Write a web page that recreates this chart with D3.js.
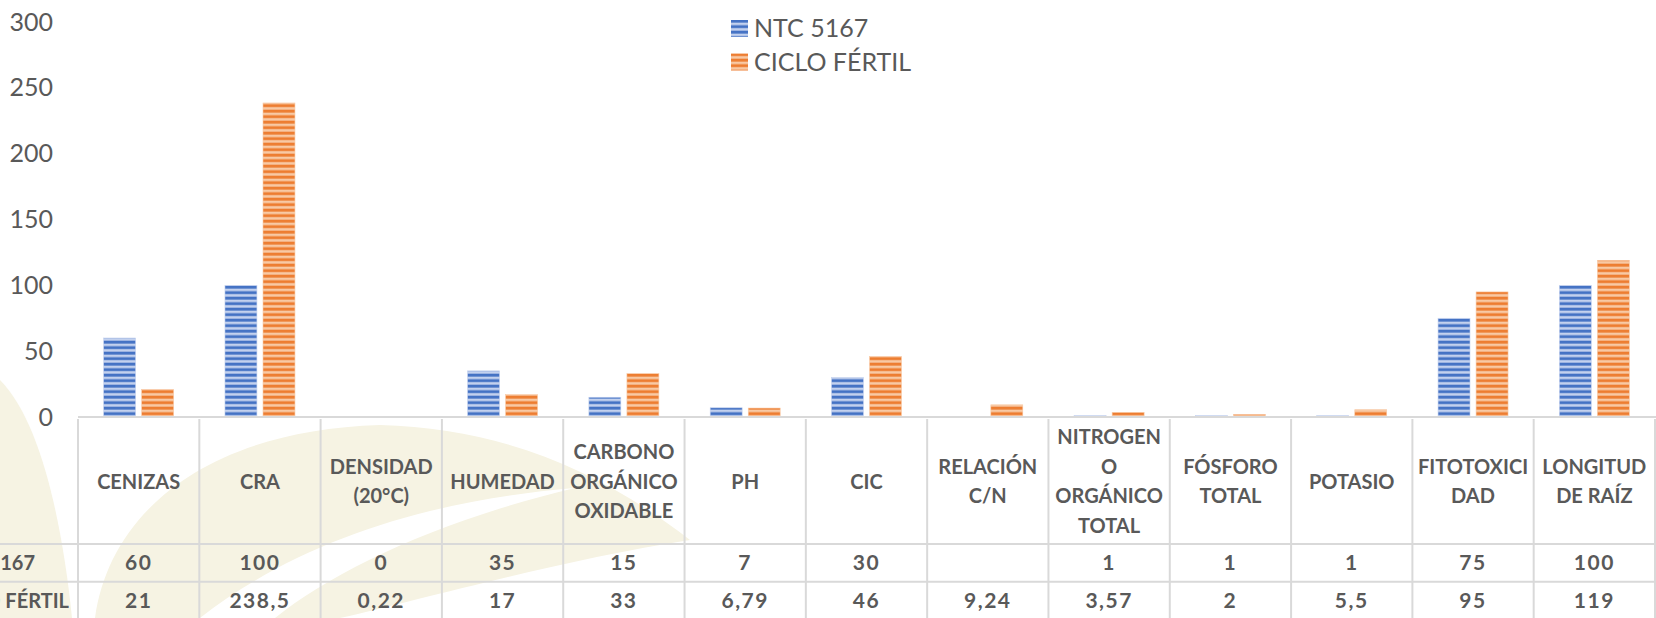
<!DOCTYPE html>
<html>
<head>
<meta charset="utf-8">
<script src="https://cdn.jsdelivr.net/npm/d3@7/dist/d3.min.js"></script>
<style>
    body { margin: 0; background: #fff; }
    svg { display: block; font-family: Lato, "Open Sans", sans-serif; }
</style>
</head>
<body>
<div id="chart"></div>
<script>
// valores (tabla de datos de Excel)
var categories = ["CENIZAS", "CRA", "DENSIDAD\n(20°C)", "HUMEDAD", "CARBONO\nORGÁNICO\nOXIDABLE", "PH", "CIC",
    "RELACIÓN\nC/N", "NITROGEN\nO\nORGÁNICO\nTOTAL", "FÓSFORO\nTOTAL", "POTASIO", "FITOTOXICI\nDAD", "LONGITUD\nDE RAÍZ"];
var seriesNames = ["NTC 5167", "CICLO FÉRTIL"];
var ntcValues = [60, 100, 0, 35, 15, 7, 30, null, 1, 1, 1, 75, 100];
var cicloValues = [21, 238.5, 0.22, 17, 33, 6.79, 46, 9.24, 3.57, 2, 5.5, 95, 119];
var yTicks = [0, 50, 100, 150, 200, 250, 300];

var width = 1656, height = 618;
var colors = ["#4472c4", "#ed7d31"],
    lightColors = ["#c3d1ee", "#f8c9a4"];
var textColor = "#595959", lineColor = "#d9d9d9";

var series = [ntcValues, cicloValues];

var svg = d3.select("#chart").append("svg")
    .attr("width", width)
    .attr("height", height);

// patrones de rayas horizontales
var defs = svg.append("defs");
colors.forEach(function (c, i) {
    var p = defs.append("pattern")
        .attr("id", "stripe" + i)
        .attr("patternUnits", "userSpaceOnUse")
        .attr("width", 10)
        .attr("height", 5.5);
    p.append("rect").attr("width", 10).attr("height", 5.5).attr("fill", c);
    p.append("rect").attr("y", 2.6).attr("width", 10).attr("height", 2.6).attr("fill", lightColors[i]);
});

// marca de agua (hojas)
var wm = svg.append("g");
wm.append("path")
    .attr("d", "M0,380 C40,420 62,520 72,618 L0,618 Z")
    .attr("fill", "#f6f3e3");
wm.append("path")
    .attr("d", "M95,618 C110,510 210,430 380,425 C500,428 600,470 690,540 C560,560 420,600 340,618 Z")
    .attr("fill", "#f6f3e3");
wm.append("path")
    .attr("d", "M200,618 C300,540 430,500 575,488 C440,520 335,570 275,618 Z")
    .attr("fill", "#ffffff");

var x0 = d3.scaleBand()
    .domain(d3.range(categories.length))
    .range([78, 1655])
    .paddingInner(0)
    .paddingOuter(0);

var groupW = x0.bandwidth() * 0.577;
var x1 = d3.scaleBand()
    .domain(d3.range(seriesNames.length))
    .range([0, groupW])
    .paddingInner(0.16);

var y = d3.scaleLinear()
    .domain([0, 300])
    .range([417, 22]);

// eje Y
var yAxis = svg.append("g")
    .attr("transform", "translate(60,0)")
    .call(d3.axisLeft(y).tickValues(yTicks).tickSize(0).tickPadding(7));
yAxis.select(".domain").remove();
yAxis.selectAll("text")
    .attr("fill", textColor)
    .style("font-family", "Lato, sans-serif")
    .style("font-size", "25px");

// barras
series.forEach(function (vals, s) {
    svg.append("g")
        .selectAll("rect")
        .data(vals.map(function (v, i) { return { i: i, v: v }; }).filter(function (d) { return d.v != null && d.v > 0; }))
        .enter().append("rect")
        .attr("x", function (d) { return x0(d.i) + (x0.bandwidth() - groupW) / 2 + x1(s); })
        .attr("y", function (d) { return y(d.v); })
        .attr("width", x1.bandwidth())
        .attr("height", function (d) { return y(0) - y(d.v); })
        .attr("fill", "url(#stripe" + s + ")")
        .attr("stroke", lightColors[s])
        .attr("stroke-width", 0.6);
});

// linea base
svg.append("line")
    .attr("x1", 78).attr("x2", 1656)
    .attr("y1", y(0)).attr("y2", y(0))
    .attr("stroke", lineColor).attr("stroke-width", 2);

// tabla de datos
var rowTop = 419, headBottom = 544, row2Bottom = 581.7, rowH = row2Bottom - headBottom;
var table = svg.append("g");

table.selectAll(".vline")
    .data(d3.range(categories.length + 1))
    .enter().append("line")
    .attr("x1", function (d) { return d < categories.length ? x0(d) : x0.range()[1]; })
    .attr("x2", function (d) { return d < categories.length ? x0(d) : x0.range()[1]; })
    .attr("y1", rowTop).attr("y2", height)
    .attr("stroke", lineColor).attr("stroke-width", 2);

table.selectAll(".hline")
    .data([headBottom, row2Bottom])
    .enter().append("line")
    .attr("x1", 0).attr("x2", width)
    .attr("y1", function (d) { return d; }).attr("y2", function (d) { return d; })
    .attr("stroke", lineColor).attr("stroke-width", 2);

// encabezados
var lineH = 29.5, headMid = (rowTop + headBottom) / 2;
var head = table.selectAll(".head")
    .data(categories)
    .enter().append("text")
    .attr("text-anchor", "middle")
    .attr("fill", textColor)
    .style("font-weight", "bold")
    .style("font-size", "20px");
head.each(function (d, i) {
    var lines = d.split("\n");
    var t = d3.select(this);
    lines.forEach(function (l, k) {
        t.append("tspan")
            .attr("x", x0(i) + x0.bandwidth() / 2)
            .attr("y", headMid + (k - (lines.length - 1) / 2) * lineH)
            .attr("dy", "0.35em")
            .text(l);
    });
});

// filas de valores
function fmt(v) { return v == null ? "" : String(v).replace(".", ","); }

var labelEnds = [35, 69];
series.forEach(function (vals, s) {
    var cy = headBottom + rowH * s + rowH / 2;
    table.append("text")
        .attr("x", labelEnds[s])
        .attr("y", cy)
        .attr("dy", "0.35em")
        .attr("text-anchor", "end")
        .attr("fill", textColor)
        .style("font-weight", "bold")
        .style("font-size", "20px")
        .text(seriesNames[s]);
    table.append("g")
        .selectAll("text")
        .data(vals)
        .enter().append("text")
        .attr("x", function (d, i) { return x0(i) + x0.bandwidth() / 2; })
        .attr("y", cy)
        .attr("dy", "0.35em")
        .attr("text-anchor", "middle")
        .attr("fill", textColor)
        .style("font-weight", "bold")
        .style("font-size", "21px")
        .style("letter-spacing", "1.5px")
        .text(function (d) { return fmt(d); });
});

// leyenda
var legend = svg.append("g")
    .selectAll("g")
    .data(seriesNames)
    .enter().append("g")
    .attr("transform", function (d, i) { return "translate(731," + (20 + i * 33.5) + ")"; });
legend.append("rect")
    .attr("width", 17).attr("height", 17)
    .attr("fill", function (d, i) { return "url(#stripe" + i + ")"; });
legend.append("text")
    .attr("x", 23).attr("y", 8.5)
    .attr("dy", "0.35em")
    .attr("fill", textColor)
    .style("font-size", "25px")
    .text(function (d) { return d; });
</script>
</body>
</html>
